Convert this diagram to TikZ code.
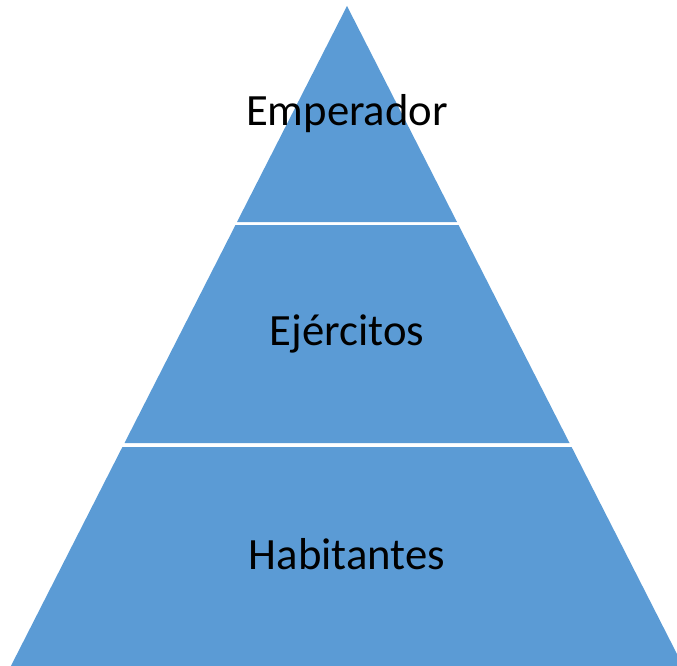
\documentclass[tikz,border=0pt]{standalone}
\usepackage{fontspec}
\setmainfont{Carlito}
\definecolor{pyrblue}{RGB}{91,155,213}
\begin{document}
\begin{tikzpicture}[x=1pt, y=-1pt,
		layer/.style={fill=pyrblue},
		lbl/.style={font=\fontsize{44.7}{54}\selectfont, text=black, inner sep=0pt, anchor=base}]
			\clip (0,0) rectangle (677,666);
			
			\fill[layer] (347,6) -- (457,222) -- (237,222) -- cycle;
			\fill[layer] (235.5,225) -- (458.5,225) -- (569.5,443) -- (124.5,443) -- cycle;
			\fill[layer] (122.4,447) -- (571.6,447) -- (683.1,666) -- (10.9,666) -- cycle;
			
			\node[lbl] (emperador) at (347,126) {Emperador};
			\node[lbl] (ejercitos) at (347,345.7) {Ejércitos};
			\node[lbl] (habitantes) at (347,569.5) {Habitantes};
		\end{tikzpicture}
\end{document}
